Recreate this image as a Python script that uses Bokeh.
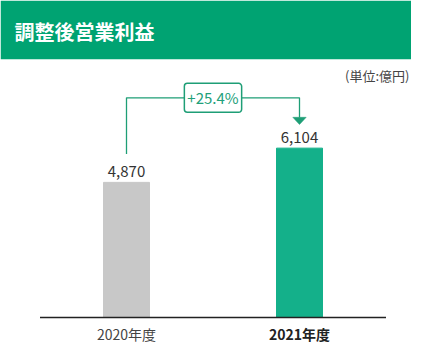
from bokeh.plotting import figure
from bokeh.models import Range1d, BoxAnnotation, Label, ColumnDataSource
from bokeh.core.properties import value
from bokeh.embed import file_html
from bokeh.resources import INLINE

# ---- data ----
categories = ["2020年度", "2021年度"]
values = [4870, 6104]
value_labels = ["4,870", "6,104"]
growth_label = "+25.4%"
title_text = "調整後営業利益"
unit_text = "(単位:億円)"

bar_colors = ["#c8c8c8", "#14b08a"]
cat_colors = ["#444444", "#222222"]
cat_styles = ["normal", "bold"]

FONT = "Noto Sans CJK JP"
HEADER_GREEN = "#00a372"
LINE_GREEN = "#1e9e76"

W, H = 411, 343
u = 36.04          # data units per pixel
BASE = 317         # pixel row of the zero line
PX_X = 173         # pixels per category slot
LEFT = 39.5        # pixel column of the axis start


def Yh(px):        # header rows
    return (BASE - px) * u


def Yc(px):        # chart rows (reference rows, chart shifted up to fit)
    return (326.5 - px) * u


xs = [i + 0.5 for i in range(len(categories))]

p = figure(width=W, height=H, output_backend="svg", toolbar_location=None,
           x_range=Range1d(-LEFT / PX_X, (W - LEFT) / PX_X),
           y_range=Range1d(Yh(H), Yh(0)),
           min_border=0, outline_line_color=None)
p.axis.visible = False
p.grid.visible = False
p.background_fill_color = "white"
p.border_fill_color = "white"

# header band and title
p.add_layout(BoxAnnotation(bottom=Yh(58.7), fill_color=HEADER_GREEN, fill_alpha=1,
                           line_alpha=0, level="underlay"))
p.add_layout(Label(x=14, x_units="screen", y=Yh(30.5), text=title_text,
                   text_baseline="middle", text_align="left",
                   text_font=FONT, text_font_size="20px", text_font_style="bold",
                   text_color="white"))
p.add_layout(Label(x=W - 2, x_units="screen", y=Yh(75), text=unit_text,
                   text_baseline="middle", text_align="right",
                   text_font=FONT, text_font_size="13px", text_color="#444444"))

src = ColumnDataSource(dict(x=xs, cat=categories, top=values, color=bar_colors,
                            lab=value_labels, ccol=cat_colors, cstyle=cat_styles,
                            zero=[0] * len(categories)))

p.vbar(x="x", top="top", width=46 / PX_X, color="color", source=src)

# baseline axis
p.segment(x0=[0], x1=[len(categories)], y0=[0], y1=[0],
          line_color="#222222", line_width=1.5)

# value labels
p.text(x="x", y="top", text="lab", source=src, text_align="center",
       text_baseline="middle", y_offset=-11, text_font=value(FONT),
       text_font_size="15px", text_color="#333333")

# category labels
p.text(x="x", y="zero", text="cat", source=src, text_align="center",
       text_baseline="middle", y_offset=16, text_font=value(FONT),
       text_font_size="14px", text_color="ccol", text_font_style="cstyle")

# connector
level = Yc(106.8)
p.line(x=[xs[0], xs[0], xs[1], xs[1]],
       y=[Yc(163), level, level, Yc(126.5)], line_color=LINE_GREEN, line_width=1.3)
hw = 6.7 / PX_X
p.patch(x=[xs[1] - hw, xs[1] + hw, xs[1]], y=[Yc(126.3), Yc(126.3), Yc(133.5)],
        fill_color=LINE_GREEN, line_color=LINE_GREEN, line_width=0.5)

p.add_layout(Label(x=(xs[0] + xs[1]) / 2, y=level, text=growth_label, text_align="center",
                   text_baseline="middle", text_font=FONT, text_font_size="15px",
                   text_color="#22a07a", background_fill_color="white",
                   border_line_color=LINE_GREEN, border_line_width=1.5,
                   padding=(3, 4), border_radius=3))

open("out.html", "w").write(file_html(p, INLINE))
